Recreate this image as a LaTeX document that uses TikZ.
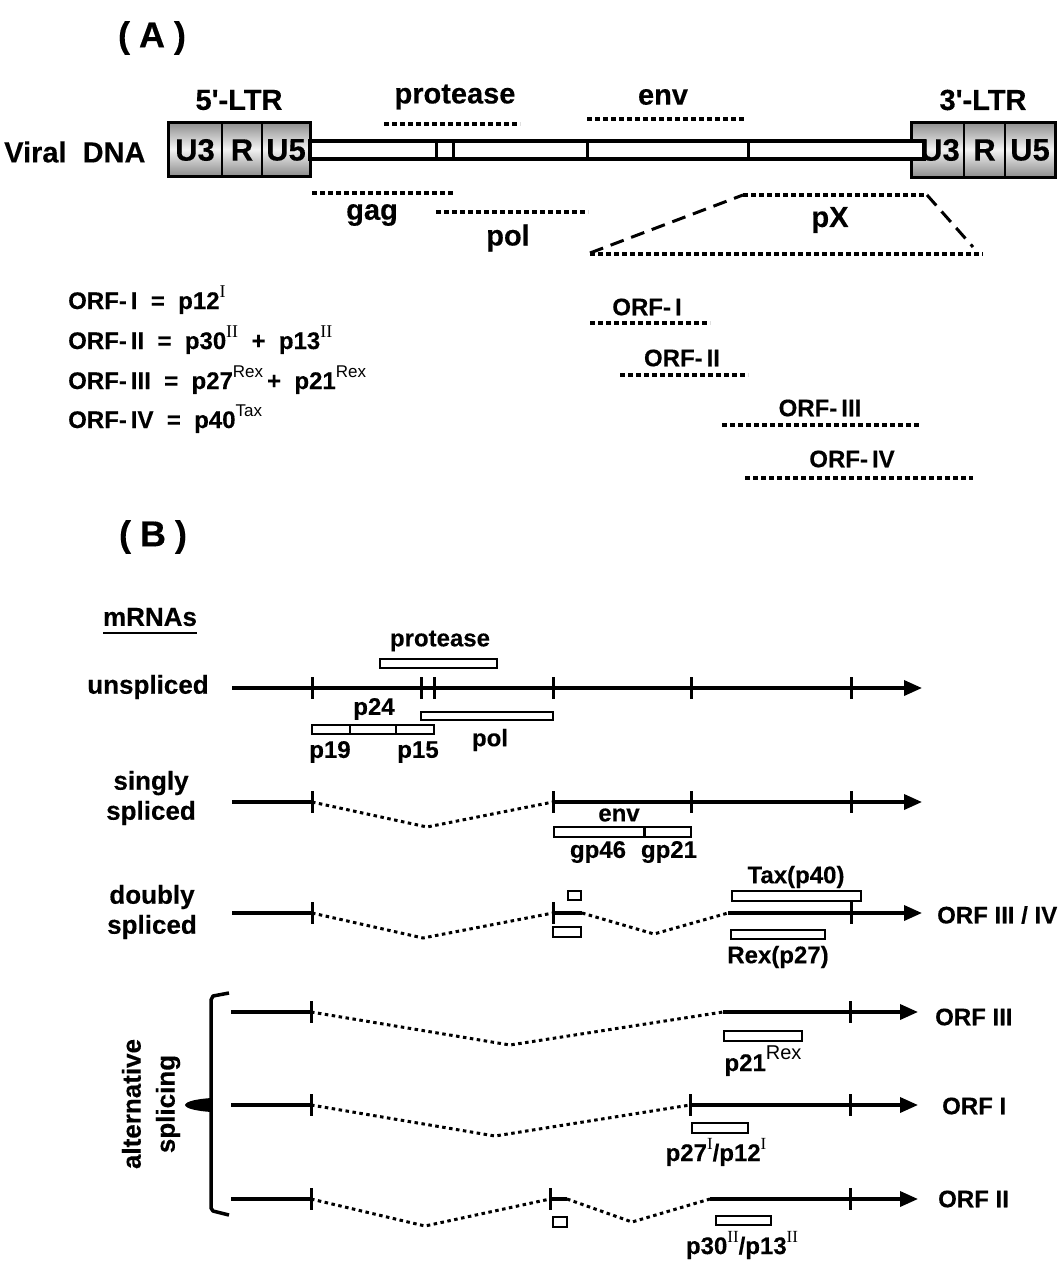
\documentclass[tikz,border=0pt]{standalone}
\usepackage{fontspec}
\setmainfont{Liberation Sans}[BoldFeatures={FakeBold=0.3}]
\newfontfamily\serifroman{Liberation Serif}
\usetikzlibrary{arrows.meta}
\newcommand{\supR}[2]{\raisebox{0.5em}{\fontsize{#1}{#1}\selectfont\mdseries #2}}
\newcommand{\supI}[2]{\raisebox{0.5em}{\fontsize{#1}{#1}\selectfont\serifroman\mdseries #2}}
\tikzset{
  panel/.style={font=\bfseries\fontsize{36}{40}\selectfont, inner sep=0pt},
  biglab/.style={font=\bfseries\fontsize{29}{33}\selectfont, inner sep=0pt},
  ltrlab/.style={font=\bfseries\fontsize{31}{35}\selectfont, inner sep=0pt},
  orflab/.style={font=\bfseries\fontsize{24}{28}\selectfont, inner sep=0pt},
  rowlab/.style={font=\bfseries\fontsize{26}{30}\selectfont, inner sep=0pt, align=center},
  lab/.style={font=\bfseries\fontsize{24}{28}\selectfont, inner sep=0pt},
  dotA/.style={line width=4.5pt, dash pattern=on 5pt off 3pt},
  dashA/.style={line width=3pt, dash pattern=on 14pt off 8pt},
  sdot/.style={line width=3pt, dash pattern=on 3.5pt off 3.5pt},
  mrna/.style={line width=3.5pt},
  arr/.style={line width=3.5pt, -{Triangle[length=18pt,width=15pt]}},
  tickm/.style={line width=3pt},
  pbox/.style={draw, line width=2pt, fill=white},
  ltrbox/.style={draw, line width=3pt, top color=black!45, bottom color=black!45, middle color=black!5},
  barline/.style={line width=3.5pt},
}
\newcommand{\tk}[2]{\draw[tickm] (#1,#2-11) -- (#1,#2+11);}
\begin{document}
\begin{tikzpicture}[x=1pt,y=-1pt]
\useasboundingbox (0,0) rectangle (1058,1269);

% ---------------- Panel A ----------------
\node[panel] (pA) at (152,38) {(\kern9pt A\kern9pt)};

\node[biglab] (ltr5) at (239,100) {5\textquotesingle-LTR};
\node[biglab] (ltr3) at (983,100) {3\textquotesingle-LTR};
\node[biglab] (prot) at (455,97) {protease};
\node[biglab] (envA) at (663,97) {env};
\node[biglab, anchor=west] (vdna) at (4,152) {Viral~~DNA};

\draw[dotA] (384,124) -- (520,124);
\draw[dotA] (587,119) -- (745,119);

% 3' LTR box (drawn before the bar)
\draw[ltrbox] (911,122) rectangle (1055,177);
\draw[line width=2.5pt] (964,122) -- (964,177) (1005,122) -- (1005,177);
\node[ltrlab] (u3b) at (940,150) {U3};
\node[ltrlab] (rb) at (984.5,150) {R};
\node[ltrlab] (u5b) at (1030,150) {U5};

% 5' LTR box
\draw[ltrbox] (168,122) rectangle (310,176);
\draw[line width=2.5pt] (222,122) -- (222,176) (262,122) -- (262,176);
\node[ltrlab] (u3a) at (195,150) {U3};
\node[ltrlab] (ra) at (242,150) {R};
\node[ltrlab] (u5a) at (286,150) {U5};

% bar
\draw[barline, fill=white] (310,141) rectangle (924,159);
\draw[line width=3pt] (436,141) -- (436,159) (453,141) -- (453,159)
  (587,141) -- (587,159) (748,141) -- (748,159);

% gag / pol
\draw[dotA] (312,193) -- (455,193);
\node[biglab] (gag) at (372,215) {gag};
\draw[dotA] (436,212) -- (588,212);
\node[biglab] (polA) at (508,238) {pol};

% pX
\draw[dashA] (590,253) -- (743,195);
\draw[dotA] (743,195) -- (927,195);
\draw[dashA] (927,195) -- (973,247);
\draw[dotA] (590,254) -- (983,254);
\node[biglab] (pX) at (830,220) {pX};

% ORF list
\node[orflab, anchor=base west] (l1) at (68,309) {ORF-\,I\ \ =\ \ p12\supI{18}{I}};
\node[orflab, anchor=base west] (l2) at (68,349) {ORF-\,II\ \ =\ \ p30\supI{18}{II}\ \ +\ \ p13\supI{18}{II}};
\node[orflab, anchor=base west] (l3) at (68,389) {ORF-\,III\ \ =\ \ p27\supR{17}{Rex}\,+\ \ p21\supR{17}{Rex}};
\node[orflab, anchor=base west] (l4) at (68,428) {ORF-\,IV\ \ =\ \ p40\supR{17}{Tax}};

% ORF dotted
\node[orflab] (o1) at (647,307) {ORF-\,I};
\draw[dotA] (590,323) -- (710,323);
\node[orflab] (o2) at (682,358) {ORF-\,II};
\draw[dotA] (620,375) -- (748,375);
\node[orflab] (o3) at (820,408) {ORF-\,III};
\draw[dotA] (722,425) -- (920,425);
\node[orflab] (o4) at (852,459) {ORF-\,IV};
\draw[dotA] (745,478) -- (973,478);

% ---------------- Panel B ----------------
\node[panel] (pB) at (153,537) {(\kern9pt B\kern9pt)};
\node[rowlab] (mr) at (150,617) {mRNAs};
\draw[line width=2.5pt] (103,633) -- (197,633);

% unspliced
\node[rowlab] (uns) at (148,687) {unspliced};
\draw[arr] (232,688) -- (922,688);
\tk{312}{688}\tk{421}{688}\tk{434}{688}\tk{553}{688}\tk{691}{688}\tk{851}{688}
\draw[pbox] (380,659) rectangle (497,668);
\node[lab] (protB) at (440,641) {protease};
\draw[pbox] (421,712) rectangle (553,720);
\node[lab] (polB) at (490,740) {pol};
\draw[pbox] (312,725) rectangle (350,734);
\draw[pbox] (350,725) rectangle (396,734);
\draw[pbox] (396,725) rectangle (434,734);
\node[lab] (p24) at (374,709) {p24};
\node[lab] (p19) at (330,752) {p19};
\node[lab] (p15) at (418,752) {p15};

% singly spliced
\node[rowlab] (sing) at (151,798) {singly\\spliced};
\draw[mrna] (232,802) -- (312,802);
\draw[sdot] (312,802) -- (427,827) -- (553,802);
\draw[arr] (553,802) -- (922,802);
\tk{312}{802}\tk{553}{802}\tk{691}{802}\tk{851}{802}
\draw[pbox] (554,827) rectangle (644,837);
\draw[pbox] (645,827) rectangle (691,837);
\node[lab] (envB) at (619,815) {env};
\node[lab] (gp46) at (598,852) {gp46};
\node[lab] (gp21) at (669,852) {gp21};

% doubly spliced
\node[rowlab] (doub) at (152,912) {doubly\\spliced};
\draw[mrna] (232,913) -- (312,913);
\draw[sdot] (312,913) -- (423,938) -- (553,913);
\draw[mrna] (553,913) -- (582,913);
\draw[sdot] (582,913) -- (654,934) -- (728,913);
\draw[arr] (728,913) -- (922,913);
\tk{312}{913}\tk{553}{913}\tk{851}{913}
\draw[pbox] (568,891) rectangle (581,900);
\draw[pbox] (553,927) rectangle (581,937);
\draw[pbox] (732,891) rectangle (861,901);
\draw[pbox] (731,930) rectangle (825,939);
\node[lab] (tax) at (796,877) {Tax(p40)};
\node[lab] (rex) at (778,957) {Rex(p27)};
\node[lab, anchor=west] (o34) at (937,915) {ORF III / IV};

% alternative splicing bracket
\draw[line width=3.5pt, line join=round] (229,993) -- (213,996) -- (211,1000) -- (211,1208) -- (213,1211) -- (229,1215);
\fill (211,1098) .. controls (198,1099) and (186,1101) .. (185,1105) .. controls (186,1109) and (198,1111) .. (211,1112) -- cycle;
\node[rowlab, rotate=90, font=\bfseries\fontsize{26}{34}\selectfont] (alts) at (151,1104) {alternative\\splicing};

% row ORF III
\draw[mrna] (231,1012) -- (311,1012);
\draw[sdot] (311,1012) -- (510,1045) -- (723,1012);
\draw[arr] (723,1012) -- (918,1012);
\tk{311}{1012}\tk{850}{1012}
\draw[pbox] (724,1031) rectangle (802,1041);
\node[lab, anchor=base] (p21) at (763,1071) {p21\supR{20}{Rex}};
\node[lab, anchor=west] (r3) at (935,1017) {ORF III};

% row ORF I
\draw[mrna] (231,1105) -- (311,1105);
\draw[sdot] (311,1105) -- (495,1136) -- (690,1105);
\draw[arr] (690,1105) -- (918,1105);
\tk{311}{1105}\tk{690}{1105}\tk{850}{1105}
\draw[pbox] (692,1123) rectangle (748,1133);
\node[lab, anchor=base] (p27) at (716,1161) {p27\supI{17}{I}/p12\supI{17}{I}};
\node[lab, anchor=west] (r1) at (942,1106) {ORF I};

% row ORF II
\draw[mrna] (231,1199) -- (311,1199);
\draw[sdot] (311,1199) -- (425,1226) -- (550,1199);
\draw[mrna] (550,1199) -- (567,1199);
\draw[sdot] (567,1199) -- (632,1222) -- (710,1199);
\draw[arr] (710,1199) -- (918,1199);
\tk{311}{1199}\tk{550}{1199}\tk{850}{1199}
\draw[pbox] (553,1217) rectangle (567,1227);
\draw[pbox] (716,1216) rectangle (771,1225);
\node[lab, anchor=base] (p30) at (742,1254) {p30\supI{17}{II}/p13\supI{17}{II}};
\node[lab, anchor=west] (r2) at (938,1199) {ORF II};

\end{tikzpicture}
\end{document}
